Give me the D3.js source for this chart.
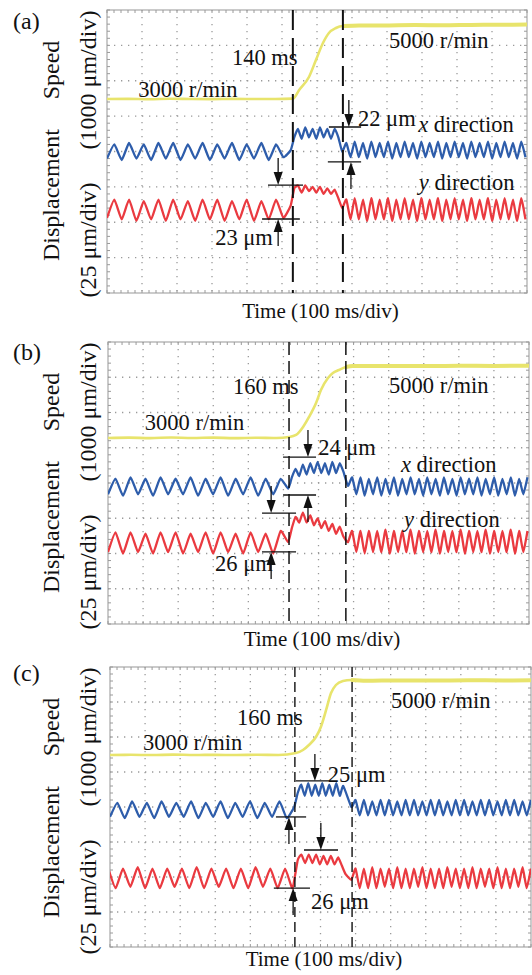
<!DOCTYPE html>
<html>
<head>
<meta charset="utf-8">
<script src="https://cdn.jsdelivr.net/npm/d3@7"></script>
<style>
  body { margin: 0; background: #fff; }
  svg { display: block; }
  text { font-family: "Liberation Serif", "Times New Roman", serif; fill: #111; }
</style>
</head>
<body>
<div id="art"></div>
<script>
// ---- data (time in ms, displacement in um from screen bottom, speed in r/min) ----
const panelNames = ["(a)", "(b)", "(c)"];
const stepTimes = [[531, 674], [516, 678], [527, 690]];
const stepLabels = ["140 ms", "160 ms", "160 ms"];
const speedLabels = ["3000 r/min", "5000 r/min"];
const timeLabel = "Time (100 ms/div)";

const speedA = [[0,3000],[60,3005],[120,2995],[180,3008],[240,3000],[300,2996],[360,3004],[420,3000],[480,2998],[531,3010],
  [549,3254],[577,3622],[597,4102],[617,4583],[634,4866],[654,5007],[674,5064],[720,5075],[800,5080],[880,5090],[960,5085],[1040,5095],[1120,5100],[1200,5105]];
const speedB = [[0,3000],[60,3010],[120,2995],[180,3015],[240,3000],[300,3010],[360,2995],[420,3005],[480,3000],[516,3028],
  [536,3085],[556,3312],[573,3596],[593,3993],[607,4362],[627,4702],[641,4844],[658,4929],[678,5014],[698,5043],[760,5040],[840,5045],[920,5040],[1000,5048],[1100,5045],[1200,5050]];
const speedC = [[0,3000],[60,3005],[120,2998],[180,3010],[240,3000],[300,3004],[360,2998],[420,3006],[480,3000],[530,3057],
  [550,3143],[567,3286],[587,3514],[601,3800],[616,4286],[630,4771],[644,5000],[664,5114],[687,5143],[730,5120],[820,5130],[920,5125],[1020,5135],[1120,5130],[1200,5135]];

const xDispA = [
  {t0: 0, dt: 21, v: [95,105,94,106,95,105,94,106,95,106,94,105,95,106,94,105,95,106,94,105,95,106,94,105,96,101]},
  {t0: 535, dt: 10.5, v: [110,116,109,117,110,116,109,117,110,116,109,116,110]},
  {t0: 672, dt: 11.9, v: [100,106,96,107,96,106,95,107,96,106,96,107,95,106,96,107,96,106,95,107,96,106,96,107,95,106,96,107,96,106,95,107,96,106,96,107,95,106,96,107,96,106,95,107,96]}
];
const yDispA = [
  {t0: 0, dt: 21, v: [53,66,52,66,51,65,52,66,51,66,52,65,51,66,52,66,51,65,52,66,51,65,52,66,53,62]},
  {t0: 535, dt: 10.5, v: [74,76,71,76,72,75,71,75,70,74,70,73,67]},
  {t0: 672, dt: 11.9, v: [60,66,52,67,52,66,51,67,52,66,52,67,51,66,52,67,52,66,51,67,52,66,52,67,51,66,52,67,52,66,51,67,52,66,52,67,51,66,52,67,52,66,51,67,52]}
];
const xDispB = [
  {t0: 0, dt: 21.4, v: [92,103,91,104,92,103,91,104,92,103,92,104,91,103,92,104,91,103,92,104,91,103,92,103,96]},
  {t0: 524, dt: 10.5, v: [104,110,105,113,106,114,107,115,107,114,106,115,107,114,108]},
  {t0: 684, dt: 11.9, v: [98,104,92,104,91,103,92,104,91,103,92,104,91,103,92,104,92,103,91,104,92,103,91,104,92,103,91,104,92,103,92,104,91,103,92,104,91,103,92,104,91,103,92,104]}
];
const yDispB = [
  {t0: 0, dt: 21.4, v: [51,65,50,65,51,64,50,65,51,65,50,64,51,65,50,65,51,64,50,65,51,64,50,66,58]},
  {t0: 524, dt: 10.5, v: [68,76,72,79,72,77,70,75,68,73,66,71,64,69,62]},
  {t0: 684, dt: 11.9, v: [58,66,51,66,50,66,51,66,51,67,50,66,51,66,51,67,50,66,51,66,51,67,50,66,51,66,51,67,50,66,51,66,51,67,50,66,51,66,51,67,50,66,51,66]}
];
const xDispC = [
  {t0: 0, dt: 21, v: [93,103,92,104,93,103,92,104,93,103,93,104,92,103,93,104,92,103,93,104,92,103,93,104,92,100]},
  {t0: 535, dt: 10, v: [110,116,108,117,108,116,108,117,108,116,108,117,108,115]},
  {t0: 688, dt: 11.9, v: [100,105,94,105,94,104,94,105,94,105,94,104,94,105,94,105,94,104,94,105,94,105,94,104,94,105,94,105,94,104,94,105,94,105,94,104,94,105,94,105,94,104,94,105]}
];
const yDispC = [
  {t0: -5, dt: 21, v: [56,42,56,43,57,42,56,42,56,43,56,42,57,42,56,43,56,42,56,42,57,43,56,42,56,42]},
  {t0: 535, dt: 10.5, v: [62,66,60,66,60,66,59,65,59,65,59,64,58,52]},
  {t0: 688, dt: 11.9, v: [48,56,42,56,42,57,42,56,43,56,42,57,42,56,42,56,43,57,42,56,42,56,42,57,43,56,42,56,42,57,42,56,43,56,42,57,42,56,42,56,43,57,42,56]}
];

// step measurements: arrow time, level (um), line span (ms)
const stepsA = [
  {label: "23 μm", top: {t: 489, v: 76.3, span: [460, 560]}, bot: {t: 489, v: 52.3, span: [443, 551]}},
  {label: "22 μm", top: {t: 691, v: 117.3, span: [634, 726]}, bot: {t: 697, v: 92.6, span: [631, 726]}}
];
const stepsB = [
  {label: "26 μm", top: {t: 465, v: 78.7, span: [439, 536]}, bot: {t: 465, v: 51.1, span: [439, 536]}},
  {label: "24 μm", top: {t: 570, v: 118.4, span: [499, 593]}, bot: {t: 570, v: 91.5, span: [499, 593]}}
];
const stepsC = [
  {label: "25 μm", top: {t: 584, v: 118.6, span: [530, 624]}, bot: {t: 510, v: 92.9, span: [473, 559]}},
  {label: "26 μm", top: {t: 601, v: 69.3, span: [553, 650]}, bot: {t: 522, v: 42.1, span: [467, 570]}}
];

// ---- layout ----
const panels = [
  {name: panelNames[0], L: 107, R: 527, T: 10, B: 293, speedBottom: -2484, speed: speedA, xd: xDispA, yd: yDispA, steps: stepsA,
   dash: "20,8", dashW: 2, labelY: 29, timeY: 318,
   texts: [
     {s: stepLabels[0], t: 357, dy: 55}, {s: speedLabels[0], t: 89, dy: 87}, {s: speedLabels[1], t: 806, dy: 38},
     {s: stepsA[1].label, t: 717, dy: 116}, {s: "x", rest: " direction", t: 889, dy: 122},
     {s: "y", rest: " direction", t: 891, dy: 180}, {s: stepsA[0].label, t: 309, dy: 235}]},
  {name: panelNames[1], L: 108, R: 529, T: 342, B: 624, speedBottom: -2277, speed: speedB, xd: xDispB, yd: yDispB, steps: stepsB,
   dash: "13,6", dashW: 1.5, labelY: 360, timeY: 646,
   texts: [
     {s: stepLabels[1], t: 356, dy: 52}, {s: speedLabels[0], t: 105, dy: 88}, {s: speedLabels[1], t: 801, dy: 51},
     {s: stepsB[1].label, t: 599, dy: 113}, {s: "x", rest: " direction", t: 835, dy: 130},
     {s: "y", rest: " direction", t: 844, dy: 185}, {s: stepsB[0].label, t: 305, dy: 229}]},
  {name: panelNames[2], L: 110, R: 531, T: 667, B: 947, speedBottom: -2486, speed: speedC, xd: xDispC, yd: yDispC, steps: stepsC,
   dash: "10,5", dashW: 1.4, labelY: 681, timeY: 966,
   texts: [
     {s: stepLabels[2], t: 362, dy: 58}, {s: speedLabels[0], t: 94, dy: 83}, {s: speedLabels[1], t: 801, dy: 41},
     {s: stepsC[0].label, t: 621, dy: 115}, {s: stepsC[1].label, t: 573, dy: 242}]}
];

const colours = {speed: "#e8e46c", x: "#2e5dab", y: "#ea3a40", grid: "#9a9a9a", frame: "#a8a8a8"};
const fontSize = 22.5;

function expand(segs) {
  const pts = [];
  segs.forEach(s => s.v.forEach((v, i) => pts.push([s.t0 + i * s.dt, v])));
  return pts;
}

function art() {
  const svg = d3.select("#art").append("svg")
    .attr("width", 532).attr("height", 975)
    .attr("viewBox", "0 0 532 975");

  const defs = svg.append("defs");

  panels.forEach((p, pi) => {
    const x = d3.scaleLinear().domain([0, 1200]).range([p.L, p.R]);
    const yd = d3.scaleLinear().domain([0, 200]).range([p.B, p.T]);
    const ys = d3.scaleLinear().domain([p.speedBottom, p.speedBottom + 8000]).range([p.B, p.T]);
    const g = svg.append("g");

    defs.append("clipPath").attr("id", "clip" + pi)
      .append("rect").attr("x", p.L).attr("y", p.T).attr("width", p.R - p.L).attr("height", p.B - p.T);

    // grid
    g.selectAll(".vg").data(d3.range(1, 12)).join("line")
      .attr("x1", d => x(d * 100)).attr("x2", d => x(d * 100))
      .attr("y1", p.T).attr("y2", p.B)
      .attr("stroke", colours.grid).attr("stroke-width", 1.3)
      .attr("stroke-dasharray", "1.3,5.7");
    g.selectAll(".hg").data(d3.range(1, 8)).join("line")
      .attr("x1", p.L).attr("x2", p.R)
      .attr("y1", d => yd(d * 25)).attr("y2", d => yd(d * 25))
      .attr("stroke", colours.grid).attr("stroke-width", 1.3)
      .attr("stroke-dasharray", "1.3,5.7");

    // frame + minor ticks
    g.append("rect").attr("x", p.L).attr("y", p.T).attr("width", p.R - p.L).attr("height", p.B - p.T)
      .attr("fill", "none").attr("stroke", colours.frame).attr("stroke-width", 1.2);
    const xt = d3.range(0, 1201, 20), yt = d3.range(0, 201, 5);
    g.selectAll(".tt").data(xt).join("line")
      .attr("x1", d => x(d)).attr("x2", d => x(d)).attr("y1", p.T).attr("y2", p.T + 3)
      .attr("stroke", colours.grid).attr("stroke-width", 1);
    g.selectAll(".tb").data(xt).join("line")
      .attr("x1", d => x(d)).attr("x2", d => x(d)).attr("y1", p.B).attr("y2", p.B - 3)
      .attr("stroke", colours.grid).attr("stroke-width", 1);
    g.selectAll(".tl").data(yt).join("line")
      .attr("x1", p.L).attr("x2", p.L + 3).attr("y1", d => yd(d)).attr("y2", d => yd(d))
      .attr("stroke", colours.grid).attr("stroke-width", 1);
    g.selectAll(".tr").data(yt).join("line")
      .attr("x1", p.R).attr("x2", p.R - 3).attr("y1", d => yd(d)).attr("y2", d => yd(d))
      .attr("stroke", colours.grid).attr("stroke-width", 1);

    // traces
    const tr = g.append("g").attr("clip-path", `url(#clip${pi})`);
    const dispLine = d3.line().x(d => x(d[0])).y(d => yd(d[1])).curve(d3.curveCardinal.tension(0.55));
    const speedLine = d3.line().x(d => x(d[0])).y(d => ys(d[1])).curve(d3.curveMonotoneX);
    tr.append("path").datum(p.speed).attr("d", speedLine)
      .attr("fill", "none").attr("stroke", colours.speed).attr("stroke-width", 2.6).attr("stroke-linejoin", "round");
    // faster rotation after the step: the trace gets visibly thicker
    tr.append("path").datum(p.speed.filter(d => d[0] >= stepTimes[pi][1] - 10)).attr("d", speedLine)
      .attr("fill", "none").attr("stroke", colours.speed).attr("stroke-width", 4).attr("stroke-linejoin", "round");
    tr.append("path").datum(expand(p.xd)).attr("d", dispLine)
      .attr("fill", "none").attr("stroke", colours.x).attr("stroke-width", 2.3).attr("stroke-linejoin", "round");
    tr.append("path").datum(expand(p.yd)).attr("d", dispLine)
      .attr("fill", "none").attr("stroke", colours.y).attr("stroke-width", 2.3).attr("stroke-linejoin", "round");

    // dashed step lines
    g.selectAll(".dash").data(stepTimes[pi]).join("line")
      .attr("x1", d => x(d)).attr("x2", d => x(d)).attr("y1", p.T).attr("y2", p.B)
      .attr("stroke", "#111").attr("stroke-width", p.dashW).attr("stroke-dasharray", p.dash);

    // step measurement arrows
    const arrowLen = 27;
    p.steps.forEach(s => {
      [s.top, s.bot].forEach((m, k) => {
        const yy = yd(m.v);
        g.append("line").attr("x1", x(m.span[0])).attr("x2", x(m.span[1]))
          .attr("y1", yy).attr("y2", yy).attr("stroke", "#111").attr("stroke-width", 1.3);
        const dir = k === 0 ? 1 : -1; // top: arrow from above pointing down
        const ax = x(m.t);
        g.append("line").attr("x1", ax).attr("x2", ax)
          .attr("y1", yy - dir * arrowLen).attr("y2", yy - dir * 8)
          .attr("stroke", "#111").attr("stroke-width", 1.3);
        g.append("path")
          .attr("d", `M${ax},${yy} L${ax - 4.5},${yy - dir * 13} L${ax + 4.5},${yy - dir * 13} Z`)
          .attr("fill", "#111");
      });
    });

    // texts inside
    p.texts.forEach(t => {
      const te = g.append("text").attr("x", x(t.t)).attr("y", p.T + t.dy).attr("font-size", fontSize);
      if (t.rest) {
        te.append("tspan").attr("font-style", "italic").text(t.s);
        te.append("tspan").text(t.rest);
      } else te.text(t.s);
    });

    // panel label, axis labels
    g.append("text").attr("x", 13).attr("y", p.labelY).attr("font-size", 24).text(p.name);
    const rot = (s, bx, cy) => g.append("text")
      .attr("transform", `translate(${bx},${cy}) rotate(-90)`)
      .attr("text-anchor", "middle").attr("font-size", 24).text(s);
    rot("Speed", 59, p.T + 60);
    rot("(1000 μm/div)", 96, p.T + 70);
    rot("Displacement", 59, p.T + 185);
    rot("(25 μm/div)", 96, p.T + 230);

    g.append("text").attr("x", x(610)).attr("y", p.timeY).attr("text-anchor", "middle")
      .attr("font-size", 21).text(timeLabel);
  });
}

window.onload = function () {
  art();
};
</script>
</body>
</html>
